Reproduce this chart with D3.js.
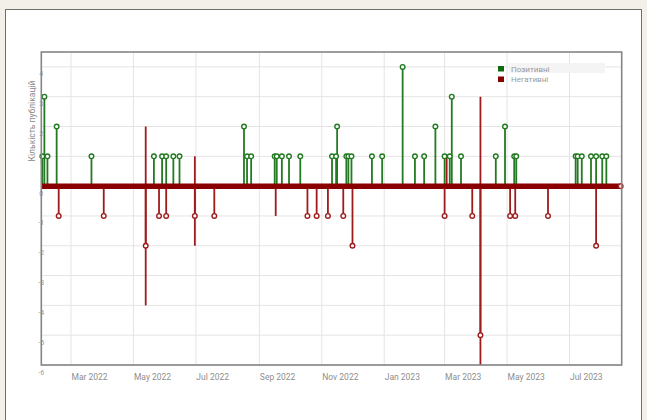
<!DOCTYPE html>
<html>
<head>
<meta charset="utf-8">
<script src="https://cdn.jsdelivr.net/npm/d3@7"></script>
<style>
  html, body { margin: 0; padding: 0; background: #f3f0ea; }
  svg { display: block; }
</style>
</head>
<body>
<svg id="chart" width="647" height="420"></svg>
<script>
// ---------- data ----------
const posDates = [
  "2022-02-01","2022-02-03","2022-02-06","2022-02-15","2022-03-21",
  "2022-05-21","2022-05-29","2022-06-02","2022-06-09","2022-06-15",
  "2022-08-17","2022-08-20","2022-08-24","2022-09-16","2022-09-18",
  "2022-09-23","2022-09-30","2022-10-11","2022-11-11","2022-11-15",
  "2022-11-16","2022-11-25","2022-11-27","2022-11-30","2022-12-20",
  "2022-12-30","2023-01-19","2023-01-31","2023-02-09","2023-02-20",
  "2023-03-01","2023-03-06","2023-03-08","2023-03-17","2023-04-20",
  "2023-04-29","2023-05-08","2023-05-10","2023-07-07","2023-07-09",
  "2023-07-13","2023-07-22","2023-07-27","2023-08-02","2023-08-06"
];
const posValues = [
  1,3,1,2,1,
  1,1,1,1,1,
  2,1,1,1,1,
  1,1,1,1,1,
  2,1,1,1,1,
  1,4,1,1,2,
  1,1,3,1,1,
  2,1,1,1,1,
  1,1,1,1,1
];
const negDates = [
  "2022-02-17","2022-04-02","2022-05-13","2022-05-26","2022-06-02",
  "2022-06-30","2022-07-19","2022-10-18","2022-10-27","2022-11-07",
  "2022-11-22","2022-12-01","2023-03-01","2023-03-28","2023-04-05",
  "2023-05-04","2023-05-09","2023-06-10","2023-07-27","2023-08-20"
];
const negValues = [
  -1,-1,-2,-1,-1,
  -1,-1,-1,-1,-1,
  -1,-2,-1,-1,-5,
  -1,-1,-1,-2,0
];
// red lines drawn without a marker
const spikeDates  = ["2022-05-13","2022-06-30","2022-09-17","2023-03-03","2023-04-05"];
const spikeTop    = [2, 1, 0, 1, 3];
const spikeBottom = [-4, -2, -1, 0, -6];

const yTicks = [-6,-5,-4,-3,-2,-1,0,1,2,3,4];
const xTickDates = ["2022-03-01","2022-05-01","2022-07-01","2022-09-01","2022-11-01",
                    "2023-01-01","2023-03-01","2023-05-01","2023-07-01"];
const xDomain = ["2022-01-31","2023-08-21"];
const yDomain = [-6, 4.5];
const yTitle = "Кількість публікацій";
const legendLabels = ["Позитивні","Негативні"];

// ---------- drawing ----------
const parse = d3.utcParse("%Y-%m-%d");
const svg = d3.select("#chart");
const FONT = "Roboto, Arial, sans-serif";

const L = 41.3, R = 621.7, T = 52, B = 365;
const x = d3.scaleUtc().domain(xDomain.map(parse)).range([L, R]);
const y = d3.scaleLinear().domain(yDomain).range([B, T]);

const GREEN = "#237a23", RED = "#9e1b1b", BAND = "#8a0000";

// card
svg.append("rect").attr("x", 5.5).attr("y", 9.5).attr("width", 636).attr("height", 420)
  .attr("fill", "#fff").attr("stroke", "#6d7168").attr("stroke-width", 1);

// grid
const grid = svg.append("g");
grid.selectAll("line.h").data(yTicks).join("line")
  .attr("x1", L).attr("x2", R).attr("y1", d => y(d)).attr("y2", d => y(d))
  .attr("stroke", "#e4e4e4").attr("stroke-width", 1);
grid.selectAll("line.v").data(xTickDates).join("line")
  .attr("x1", d => x(parse(d))).attr("x2", d => x(parse(d)))
  .attr("y1", T).attr("y2", B)
  .attr("stroke", "#e4e4e4").attr("stroke-width", 1);

// y tick labels
svg.append("g").selectAll("text").data(yTicks).join("text")
  .attr("x", L).attr("y", d => y(d) + 9.5)
  .attr("text-anchor", "middle")
  .attr("font-family", FONT).attr("font-size", 7).attr("fill", "#9a9a9a")
  .text(d => d);

// x tick labels
const fmt = d3.utcFormat("%b %Y");
svg.append("g").selectAll("text").data(xTickDates).join("text")
  .attr("x", d => x(parse(d)) + 0.5).attr("y", 379.5)
  .attr("font-family", FONT).attr("font-size", 8.5).attr("fill", "#8e8e8e")
  .text(d => fmt(parse(d)));

// y title
svg.append("text")
  .attr("transform", `translate(34.5,121) rotate(-90)`)
  .attr("text-anchor", "middle")
  .attr("font-family", FONT).attr("font-size", 8.5).attr("fill", "#888")
  .text(yTitle);

const pos = posDates.map((d, i) => ({ date: parse(d), v: posValues[i] }));
const neg = negDates.map((d, i) => ({ date: parse(d), v: negValues[i] }));
const spikes = spikeDates.map((d, i) => ({ date: parse(d), a: spikeTop[i], b: spikeBottom[i] }));

// green stems
svg.append("g").selectAll("line").data(pos).join("line")
  .attr("x1", d => x(d.date)).attr("x2", d => x(d.date))
  .attr("y1", y(0)).attr("y2", d => y(d.v))
  .attr("stroke", GREEN).attr("stroke-width", 1.8);

// red stems
svg.append("g").selectAll("line").data(neg.filter(d => d.v !== 0)).join("line")
  .attr("x1", d => x(d.date)).attr("x2", d => x(d.date))
  .attr("y1", y(0)).attr("y2", d => y(d.v))
  .attr("stroke", RED).attr("stroke-width", 1.8);

// red spikes
svg.append("g").selectAll("line").data(spikes).join("line")
  .attr("x1", d => x(d.date)).attr("x2", d => x(d.date))
  .attr("y1", d => y(d.a)).attr("y2", d => y(d.b))
  .attr("stroke", RED).attr("stroke-width", 1.8);

// zero band
svg.append("line")
  .attr("x1", L).attr("x2", R).attr("y1", y(0)).attr("y2", y(0))
  .attr("stroke", BAND).attr("stroke-width", 5.5);

// green markers
svg.append("g").selectAll("circle").data(pos).join("circle")
  .attr("cx", d => x(d.date)).attr("cy", d => y(d.v)).attr("r", 2.3)
  .attr("fill", "#fff").attr("stroke", GREEN).attr("stroke-width", 1.4);

// red markers
svg.append("g").selectAll("circle").data(neg).join("circle")
  .attr("cx", d => x(d.date)).attr("cy", d => y(d.v)).attr("r", 2.3)
  .attr("fill", "#fff").attr("stroke", RED).attr("stroke-width", 1.4);

// frame
svg.append("rect").attr("x", L).attr("y", T).attr("width", R - L).attr("height", B - T)
  .attr("fill", "none").attr("stroke", "#858585").attr("stroke-width", 1.6);

// legend
svg.append("rect").attr("x", 509).attr("y", 63).attr("width", 96).attr("height", 10)
  .attr("fill", "#f4f4f4");
const lg = svg.append("g").selectAll("g").data(legendLabels).join("g")
  .attr("transform", (d, i) => `translate(498,${66 + i * 10.5})`);
lg.append("rect").attr("width", 6).attr("height", 5.5)
  .attr("fill", (d, i) => i === 0 ? "#0f6a0f" : "#8a0000");
lg.append("text").attr("x", 13).attr("y", 5.5)
  .attr("font-family", FONT).attr("font-size", 8).attr("fill", "#9a9a9a")
  .text(d => d);
</script>
</body>
</html>
